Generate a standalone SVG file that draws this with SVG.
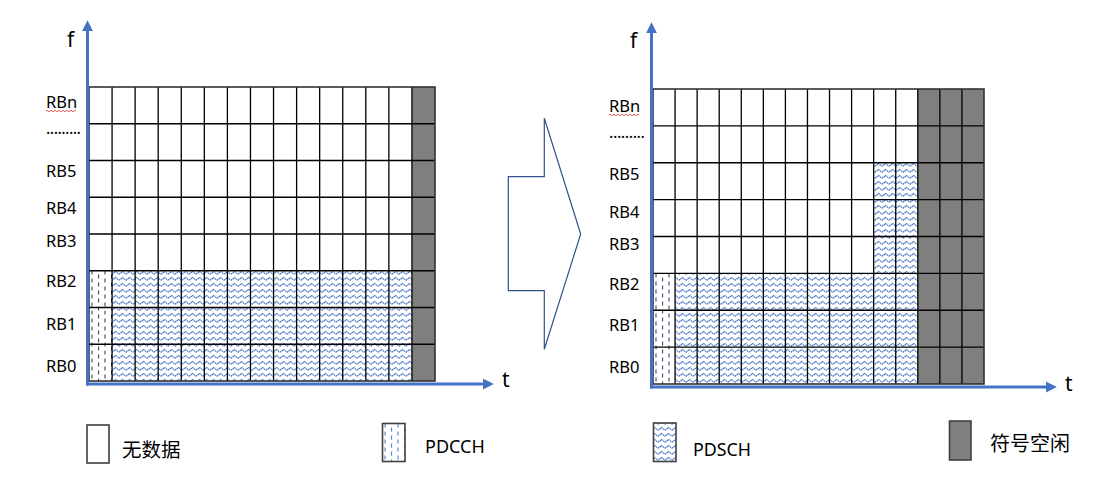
<svg xmlns="http://www.w3.org/2000/svg" width="1116" height="482" viewBox="0 0 1116 482">
<style>
text{font-family:"Noto Sans","Noto Sans CJK SC",sans-serif;fill:#000}
.lbl{font-size:16.5px}
.ax{font-size:21px}
.grid{fill:none;stroke:#000;stroke-width:1.3}
.outer{fill:none;stroke:#333;stroke-width:1.6}
.idle{fill:#7f7f7f}
.pdsch{fill:url(#wave)}
.axis{stroke:#4472C4;stroke-width:3;fill:none;marker-end:url(#ah)}
.squig{fill:none;stroke:#e03030;stroke-width:0.8}
.lbox{stroke:#404040;stroke-width:1.6}
</style>
<defs>
<pattern id="wave" patternUnits="userSpaceOnUse" width="7" height="6">
<rect width="7" height="6" fill="#fff"/>
<path d="M0,4.3 L3.5,1.5 L7,4.3" fill="none" stroke="#4472C4" stroke-width="1.25" stroke-dasharray="1.6 0.5"/>
</pattern>
<pattern id="dash" patternUnits="userSpaceOnUse" x="89" y="270" width="13" height="8">
<rect width="13" height="8" fill="#fff"/>
<path d="M3,0.5 V4.5 M9.6,4.5 V8 M9.6,0 V0.5" stroke="#2a3550" stroke-width="1"/>
</pattern>
<pattern id="dashr" patternUnits="userSpaceOnUse" x="653" y="273" width="13" height="8">
<rect width="13" height="8" fill="#fff"/>
<path d="M3,0.5 V4.5 M9.6,4.5 V8 M9.6,0 V0.5" stroke="#2a3550" stroke-width="1"/>
</pattern>
<pattern id="dashb" patternUnits="userSpaceOnUse" x="382" y="423" width="13" height="8">
<rect width="13" height="8" fill="#fff"/>
<path d="M3,0.5 V4.5 M9.6,4.5 V8 M9.6,0 V0.5" stroke="#4472C4" stroke-width="1"/>
</pattern>
<marker id="ah" markerUnits="userSpaceOnUse" viewBox="0 0 10 10" markerWidth="11" markerHeight="11" refX="2" refY="5" orient="auto">
<path d="M0,0 L10,5 L0,10 z" fill="#4472C4"/>
</marker>
</defs>
<rect width="1116" height="482" fill="#fff"/>

<g id="left-grid">
<rect class="idle" x="411.93" y="87" width="23.07" height="294"/>
<rect x="89" y="270.75" width="23.07" height="110.25" fill="url(#dash)"/>
<rect class="pdsch" x="112.07" y="270.75" width="299.86" height="110.25"/>
<path class="grid" d="M112.07,87V381M135.13,87V381M158.2,87V381M181.27,87V381M204.33,87V381M227.4,87V381M250.47,87V381M273.53,87V381M296.6,87V381M319.67,87V381M342.73,87V381M365.8,87V381M388.87,87V381M411.93,87V381M89,123.75H435M89,160.5H435M89,197.25H435M89,234H435M89,270.75H435M89,307.5H435M89,344.25H435"/>
<rect class="outer" x="89" y="87" width="346" height="294"/>
</g>

<g id="left-labels">
<text class="ax" x="67" y="47">f</text>
<text class="ax" x="502" y="387">t</text>
<text class="lbl" x="46" y="108">RBn</text>
<path class="squig" d="M46,111 q1,-1.5 2,0 t2,0 t2,0 t2,0 t2,0 t2,0 t2,0 t2,0 t2,0 t2,0 t2,0 t2,0 t2,0 t2,0 t2,0"/>
<text class="lbl" x="46" y="134" textLength="35" lengthAdjust="spacing">.........</text>
<text class="lbl" x="46" y="177">RB5</text>
<text class="lbl" x="46" y="214">RB4</text>
<text class="lbl" x="46" y="247">RB3</text>
<text class="lbl" x="46" y="287">RB2</text>
<text class="lbl" x="46" y="330">RB1</text>
<text class="lbl" x="46" y="372">RB0</text>
</g>

<g id="right-grid">
<rect class="idle" x="917.8" y="89" width="66.2" height="295"/>
<rect x="653" y="273.38" width="22.07" height="110.62" fill="url(#dashr)"/>
<rect class="pdsch" x="675.07" y="273.38" width="242.73" height="110.62"/>
<rect class="pdsch" x="873.67" y="162.75" width="44.13" height="110.63"/>
<path class="grid" d="M675.07,89V384M697.13,89V384M719.2,89V384M741.27,89V384M763.33,89V384M785.4,89V384M807.47,89V384M829.53,89V384M851.6,89V384M873.67,89V384M895.73,89V384M917.8,89V384M939.87,89V384M961.93,89V384M653,125.88H984M653,162.75H984M653,199.63H984M653,236.5H984M653,273.38H984M653,310.25H984M653,347.13H984"/>
<rect class="outer" x="653" y="89" width="331" height="295"/>
</g>

<g id="right-labels">
<text class="ax" x="630" y="48">f</text>
<text class="ax" x="1065" y="391">t</text>
<text class="lbl" x="609" y="112">RBn</text>
<path class="squig" d="M609,115 q1,-1.5 2,0 t2,0 t2,0 t2,0 t2,0 t2,0 t2,0 t2,0 t2,0 t2,0 t2,0 t2,0 t2,0 t2,0 t2,0"/>
<text class="lbl" x="609" y="138" textLength="36" lengthAdjust="spacing">.........</text>
<text class="lbl" x="609" y="180">RB5</text>
<text class="lbl" x="609" y="218">RB4</text>
<text class="lbl" x="609" y="250">RB3</text>
<text class="lbl" x="609" y="290">RB2</text>
<text class="lbl" x="609" y="331">RB1</text>
<text class="lbl" x="609" y="373">RB0</text>
</g>

<g id="connectors">
<path class="axis" d="M87.5,385.5V29"/>
<path class="axis" d="M86,384H485"/>
<path class="axis" d="M651.5,388.5V31"/>
<path class="axis" d="M650,387H1048"/>
</g>

<g id="transform-arrow">
<path d="M544.3,118.3 V176.7 H508.3 V290.7 H544.3 V349.3 L580.7,234 Z" fill="#fff" stroke="#2F528F" stroke-width="1.2"/>
</g>

<g id="legend-nodata">
<rect class="lbox" x="87" y="425" width="22" height="38" fill="#fff"/>
<text x="122" y="457" style="font-size:19.5px">无数据</text>
</g>
<g id="legend-pdcch">
<rect class="lbox" x="382.5" y="423.5" width="22.5" height="38" fill="url(#dashb)"/>
<text x="425" y="453" style="font-size:18px">PDCCH</text>
</g>
<g id="legend-pdsch">
<rect class="lbox" x="653.5" y="423" width="22.5" height="38.5" fill="url(#wave)"/>
<text x="693" y="456" style="font-size:17.8px">PDSCH</text>
</g>
<g id="legend-idle">
<rect class="lbox idle" x="949.5" y="421" width="21.5" height="39"/>
<text x="990" y="451" style="font-size:20px">符号空闲</text>
</g>
</svg>
